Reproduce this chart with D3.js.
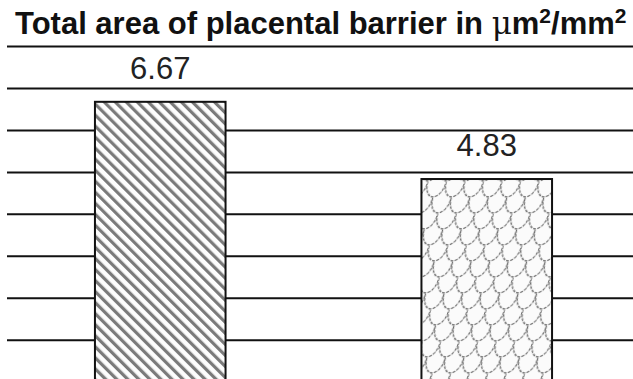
<!DOCTYPE html>
<html>
<head>
<meta charset="utf-8">
<script src="https://cdn.jsdelivr.net/npm/d3@7"></script>
<style>
  html, body { margin: 0; padding: 0; background: #fff; }
  svg { display: block; }
</style>
</head>
<body>
<svg id="chart" width="633" height="379"></svg>
<script>
// ---- data ----
const categories = ["Group A", "Group B"];
const values = [6.67, 4.83];
const valueLabels = ["6.67", "4.83"];
const gridValues = [1, 2, 3, 4, 5, 6, 7, 8];
const patterns = ["stripes", "scales"];

const W = 633, H = 379;
const svg = d3.select("#chart");

// ---- patterns ----
const defs = svg.append("defs");
const p1 = defs.append("pattern")
  .attr("id", "stripes").attr("patternUnits", "userSpaceOnUse")
  .attr("width", 7.8).attr("height", 7.8)
  .attr("patternTransform", "rotate(-45)");
p1.append("rect").attr("width", 7.8).attr("height", 7.8).attr("fill", "#fdfdfd");
p1.append("rect").attr("x", 0).attr("width", 3.2).attr("height", 7.8).attr("fill", "#7a7a7a");

const sw = 18.5, sh = 32;
const p2 = defs.append("pattern")
  .attr("id", "scales").attr("patternUnits", "userSpaceOnUse")
  .attr("width", sw).attr("height", sh).attr("x", 421).attr("y", 182)
  .attr("patternTransform", "skewX(-15)");
p2.append("rect").attr("width", sw).attr("height", sh).attr("fill", "#fbfbfb");
const arcs = [];
[[0, 0], [-sw / 2, 16], [sw / 2, 16], [0, 32], [-sw / 2, -16], [sw / 2, -16]].forEach(([ax, ay]) => {
  arcs.push(`M${ax},${ay} A${sw / 2},15 0 0 0 ${ax + sw},${ay}`);
});
p2.append("path")
  .attr("d", arcs.join(" "))
  .attr("fill", "none").attr("stroke", "#6f6f6f").attr("stroke-width", 1.3)
  .attr("stroke-dasharray", "3,1.2");

// ---- scales ----
const x = d3.scaleBand().domain(categories).range([-3, 650])
  .paddingInner(0.6).paddingOuter(0.3);
const y = d3.scaleLinear().domain([0, 8]).range([381.7, 46]);

// ---- gridlines ----
const grid = svg.append("g").attr("transform", "translate(7,0)")
  .call(d3.axisLeft(y).tickValues(gridValues).tickSize(-(W - 7)).tickFormat(""));
grid.select(".domain").remove();
grid.selectAll(".tick line").attr("stroke", "#111").attr("stroke-width", 2);

// ---- bars ----
svg.selectAll("rect.bar").data(values).join("rect")
  .attr("class", "bar")
  .attr("x", (d, i) => x(categories[i]))
  .attr("y", d => y(d))
  .attr("width", x.bandwidth())
  .attr("height", d => y(0) - y(d))
  .attr("fill", (d, i) => `url(#${patterns[i]})`)
  .attr("stroke", "#111").attr("stroke-width", 2);

// ---- value labels ----
svg.selectAll("text.val").data(values).join("text")
  .attr("class", "val")
  .attr("x", (d, i) => x(categories[i]) + x.bandwidth() / 2)
  .attr("y", d => y(d) - 23)
  .attr("text-anchor", "middle")
  .attr("font-family", "Liberation Sans, Arial, sans-serif")
  .attr("font-size", 31)
  .attr("fill", "#222")
  .text((d, i) => valueLabels[i]);

// ---- title ----
const title = svg.append("text")
  .attr("x", 15).attr("y", 34)
  .attr("font-family", "Liberation Sans, Arial, sans-serif")
  .attr("font-weight", "bold").attr("font-size", 31).attr("fill", "#111");
title.append("tspan").text("Total area of placental barrier in ");
title.append("tspan").attr("font-family", "DejaVu Serif, serif").attr("font-weight", "normal").text("\u03bc");
title.append("tspan").text("m");
title.append("tspan").attr("font-size", 21).attr("dy", -11).text("2");
title.append("tspan").attr("dy", 11).text("/mm");
title.append("tspan").attr("font-size", 21).attr("dy", -11).text("2");
</script>
</body>
</html>
